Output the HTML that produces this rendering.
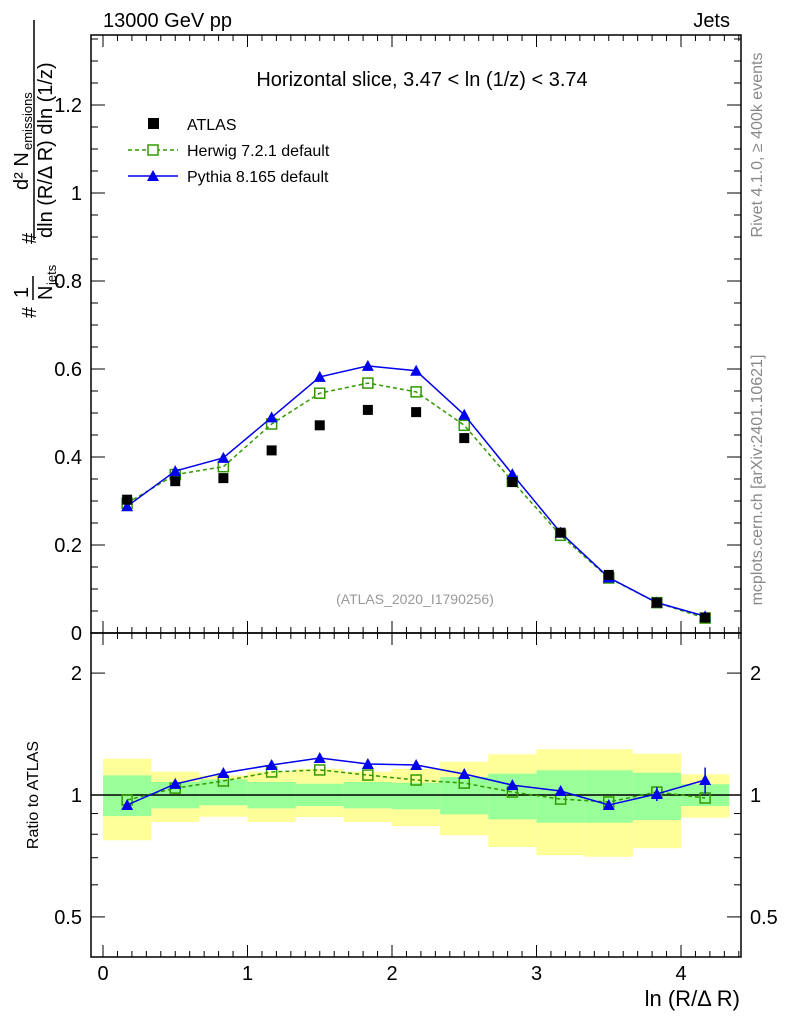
<!DOCTYPE html>
<html><head><meta charset="utf-8"><style>
body{margin:0;background:#fff;}
svg{font-family:"Liberation Sans",sans-serif;}
</style></head><body>
<svg id="c" width="786" height="1024" viewBox="0 0 786 1024"></svg>
<script>
const xCenters=[0.167,0.5,0.833,1.167,1.5,1.833,2.167,2.5,2.833,3.167,3.5,3.833,4.167];
const atlas=[0.303,0.345,0.352,0.415,0.472,0.507,0.502,0.443,0.343,0.228,0.132,0.069,0.035];
const herwig=[0.295,0.36,0.378,0.475,0.545,0.568,0.548,0.472,0.345,0.222,0.125,0.069,0.034];
const pythia=[0.288,0.368,0.398,0.49,0.582,0.607,0.596,0.496,0.361,0.228,0.126,0.069,0.038];
const pythiaErr=[0.004,0.005,0.006,0.006,0.008,0.009,0.008,0.006,0.005,0.004,0.003,0.002,0.003];
const herwigRatio=[0.972,1.04,1.083,1.14,1.153,1.12,1.089,1.07,1.017,0.977,0.961,1.017,0.983];
const pythiaRatio=[0.945,1.065,1.133,1.186,1.234,1.193,1.186,1.127,1.058,1.023,0.945,1.006,1.089];
const pythiaRatioErr=[0.01,0.01,0.01,0.01,0.012,0.012,0.012,0.012,0.015,0.02,0.025,0.04,0.08];
const greenUp=[1.118,1.077,1.093,1.077,1.066,1.077,1.072,1.108,1.129,1.151,1.151,1.135,1.063];
const greenLo=[0.887,0.927,0.943,0.927,0.939,0.927,0.922,0.896,0.871,0.854,0.854,0.867,0.939];
const yellowUp=[1.229,1.142,1.118,1.142,1.161,1.142,1.161,1.208,1.260,1.297,1.297,1.265,1.125];
const yellowLo=[0.773,0.858,0.884,0.858,0.882,0.858,0.838,0.795,0.744,0.710,0.704,0.739,0.879];
const xTicks=[0,1,2,3,4];
const yTicks=[0,0.2,0.4,0.6,0.8,1,1.2];
const rTicks=[0.5,1,2];
const binW=1/3;

const svg=document.getElementById('c');const NS='http://www.w3.org/2000/svg';
function mk(t,a,name,txt){const e=document.createElementNS(NS,t);for(const k in a)e.setAttribute(k,a[k]);


if(txt!==undefined)e.textContent=txt;svg.appendChild(e);return e;}
const X=v=>103+v*144.5;
const Y=v=>633-v*440;
const R=v=>795-Math.log10(v)*405;
const L=91,Rt=741,T=35,M=633,B=957;

xCenters.forEach((c,i)=>{
 mk('rect',{x:X(c-binW/2),y:R(yellowUp[i]),width:X(c+binW/2)-X(c-binW/2),height:R(yellowLo[i])-R(yellowUp[i]),fill:'#ffff99'},'yellow-band');
});
xCenters.forEach((c,i)=>{
 mk('rect',{x:X(c-binW/2),y:R(greenUp[i]),width:X(c+binW/2)-X(c-binW/2),height:R(greenLo[i])-R(greenUp[i]),fill:'#99ff99'},'green-band');
});
mk('line',{x1:L,x2:Rt,y1:R(1),y2:R(1),stroke:'#000','stroke-width':1.5},'ratio-one-line');

mk('rect',{x:L,y:T,width:Rt-L,height:M-T,fill:'none',stroke:'#000','stroke-width':1.5},'main-frame');
mk('rect',{x:L,y:M,width:Rt-L,height:B-M,fill:'none',stroke:'#000','stroke-width':1.5},'ratio-frame');

for(let v=0;v<=4.4;v+=0.1){const x=X(v);const maj=Math.abs(v-Math.round(v))<1e-6;const len=maj?12:6;
 [[T,1],[M,-1],[M,1],[B,-1]].forEach(([y0,d])=>mk('line',{x1:x,x2:x,y1:y0,y2:y0+d*len,stroke:'#000'},'x-tick'));}
xTicks.forEach(v=>mk('text',{x:X(v),y:980,'font-size':20,'text-anchor':'middle'},'x-tick-label',v));
for(let v=0;v<=1.36;v+=0.05){const y=Y(v);const maj=Math.abs(v*5-Math.round(v*5))<1e-6;const len=maj?14:7;
 mk('line',{x1:L,x2:L+len,y1:y,y2:y,stroke:'#000'},'y-tick');mk('line',{x1:Rt,x2:Rt-len,y1:y,y2:y,stroke:'#000'},'y-tick');}
yTicks.forEach(v=>mk('text',{x:82,y:Y(v)+7,'font-size':20,'text-anchor':'end'},'y-tick-label',v));
[0.5,0.6,0.7,0.8,0.9,1,2].forEach(v=>{const y=R(v);const maj=rTicks.includes(v);const len=maj?14:7;
 mk('line',{x1:L,x2:L+len,y1:y,y2:y,stroke:'#000'},'ratio-tick');mk('line',{x1:Rt,x2:Rt-len,y1:y,y2:y,stroke:'#000'},'ratio-tick');});
rTicks.forEach(v=>{mk('text',{x:82,y:R(v)+7,'font-size':20,'text-anchor':'end'},'ratio-tick-label',v);
 mk('text',{x:750,y:R(v)+7,'font-size':20},'ratio-tick-label-right',v);});

mk('polyline',{points:xCenters.map((c,i)=>X(c)+','+Y(herwig[i])).join(' '),fill:'none',stroke:'#339900','stroke-width':1.5,'stroke-dasharray':'4,3'},'herwig-line');
xCenters.forEach((c,i)=>mk('rect',{x:X(c)-5,y:Y(herwig[i])-5,width:10,height:10,fill:'none',stroke:'#339900','stroke-width':1.5},'herwig-point'));
mk('polyline',{points:xCenters.map((c,i)=>X(c)+','+Y(pythia[i])).join(' '),fill:'none',stroke:'#0000ee','stroke-width':1.5},'pythia-line');
xCenters.forEach((c,i)=>{const x=X(c);mk('line',{x1:x,x2:x,y1:Y(pythia[i]+pythiaErr[i]),y2:Y(pythia[i]-pythiaErr[i]),stroke:'#0000ee','stroke-width':1.5},'pythia-error');});
xCenters.forEach((c,i)=>{const x=X(c),y=Y(pythia[i]);mk('polygon',{points:`${x-6},${y+5} ${x+6},${y+5} ${x},${y-6}`,fill:'#0000ee'},'pythia-point');});
xCenters.forEach((c,i)=>mk('rect',{x:X(c)-5,y:Y(atlas[i])-5,width:10,height:10,fill:'#000'},'atlas-point'));

mk('polyline',{points:xCenters.map((c,i)=>X(c)+','+R(herwigRatio[i])).join(' '),fill:'none',stroke:'#339900','stroke-width':1.5,'stroke-dasharray':'4,3'},'herwig-ratio-line');
xCenters.forEach((c,i)=>mk('rect',{x:X(c)-5,y:R(herwigRatio[i])-5,width:10,height:10,fill:'none',stroke:'#339900','stroke-width':1.5},'herwig-ratio-point'));
mk('polyline',{points:xCenters.map((c,i)=>X(c)+','+R(pythiaRatio[i])).join(' '),fill:'none',stroke:'#0000ee','stroke-width':1.5},'pythia-ratio-line');
xCenters.forEach((c,i)=>{const x=X(c);mk('line',{x1:x,x2:x,y1:R(pythiaRatio[i]+pythiaRatioErr[i]),y2:R(pythiaRatio[i]-pythiaRatioErr[i]),stroke:'#0000ee','stroke-width':1.5},'pythia-ratio-error');});
xCenters.forEach((c,i)=>{const x=X(c),y=R(pythiaRatio[i]);mk('polygon',{points:`${x-6},${y+5} ${x+6},${y+5} ${x},${y-6}`,fill:'#0000ee'},'pythia-ratio-point');});

mk('text',{x:103,y:27,'font-size':20},'energy-label','13000 GeV pp');
mk('text',{x:730,y:27,'font-size':20,'text-anchor':'end'},'jets-label','Jets');
mk('text',{x:422,y:86,'font-size':20,'text-anchor':'middle'},'plot-title','Horizontal slice, 3.47 < ln (1/z) < 3.74');
mk('text',{x:415,y:604,'font-size':14,fill:'#999','text-anchor':'middle'},'analysis-id','(ATLAS_2020_I1790256)');
mk('rect',{x:148,y:118,width:11,height:11,fill:'#000'},'legend-atlas-marker');
mk('text',{x:187,y:130,'font-size':16},'legend-atlas','ATLAS');
mk('line',{x1:128,x2:178,y1:150,y2:150,stroke:'#339900','stroke-width':1.5,'stroke-dasharray':'4,3'},'legend-herwig-line');
mk('rect',{x:148,y:145,width:10,height:10,fill:'#fff',stroke:'#339900','stroke-width':1.5},'legend-herwig-marker');
mk('text',{x:187,y:156,'font-size':16},'legend-herwig','Herwig 7.2.1 default');
mk('line',{x1:128,x2:178,y1:176,y2:176,stroke:'#0000ee','stroke-width':1.5},'legend-pythia-line');
mk('polygon',{points:'147,181 159,181 153,170',fill:'#0000ee'},'legend-pythia-marker');
mk('text',{x:187,y:182,'font-size':16},'legend-pythia','Pythia 8.165 default');
mk('text',{x:740,y:1006,'font-size':22,'text-anchor':'end'},'x-axis-title','ln (R/Δ R)');
mk('text',{x:0,y:0,'font-size':16,'text-anchor':'middle',transform:'translate(38,795) rotate(-90)'},'ratio-axis-title','Ratio to ATLAS');
mk('text',{x:0,y:0,'font-size':16,fill:'#888','text-anchor':'middle',transform:'translate(762,145) rotate(-90)'},'rivet-label','Rivet 4.1.0, ≥ 400k events');
mk('text',{x:0,y:0,'font-size':16,fill:'#888','text-anchor':'middle',transform:'translate(762,480) rotate(-90)'},'mcplots-label','mcplots.cern.ch [arXiv:2401.10621]');
const g=document.createElementNS(NS,'g');g.setAttribute('transform','rotate(-90)');


svg.appendChild(g);
g.innerHTML='<text x="-318" y="36" font-size="20">#</text><text x="-298" y="28" font-size="20">1</text><line x1="-300" x2="-276" y1="33" y2="33" stroke="#000" stroke-width="1.5"/><text x="-300" y="52" font-size="20">N</text><text x="-285" y="56" font-size="13">jets</text><text x="-244" y="36" font-size="20">#</text><text x="-190" y="28" font-size="20">d² N</text><text x="-150" y="32" font-size="13">emissions</text><line x1="-240" x2="-20" y1="34" y2="34" stroke="#000" stroke-width="1.5"/><text x="-238" y="52" font-size="20">dln (R/Δ R) dln (1/z)</text>';
</script>
</body></html>
